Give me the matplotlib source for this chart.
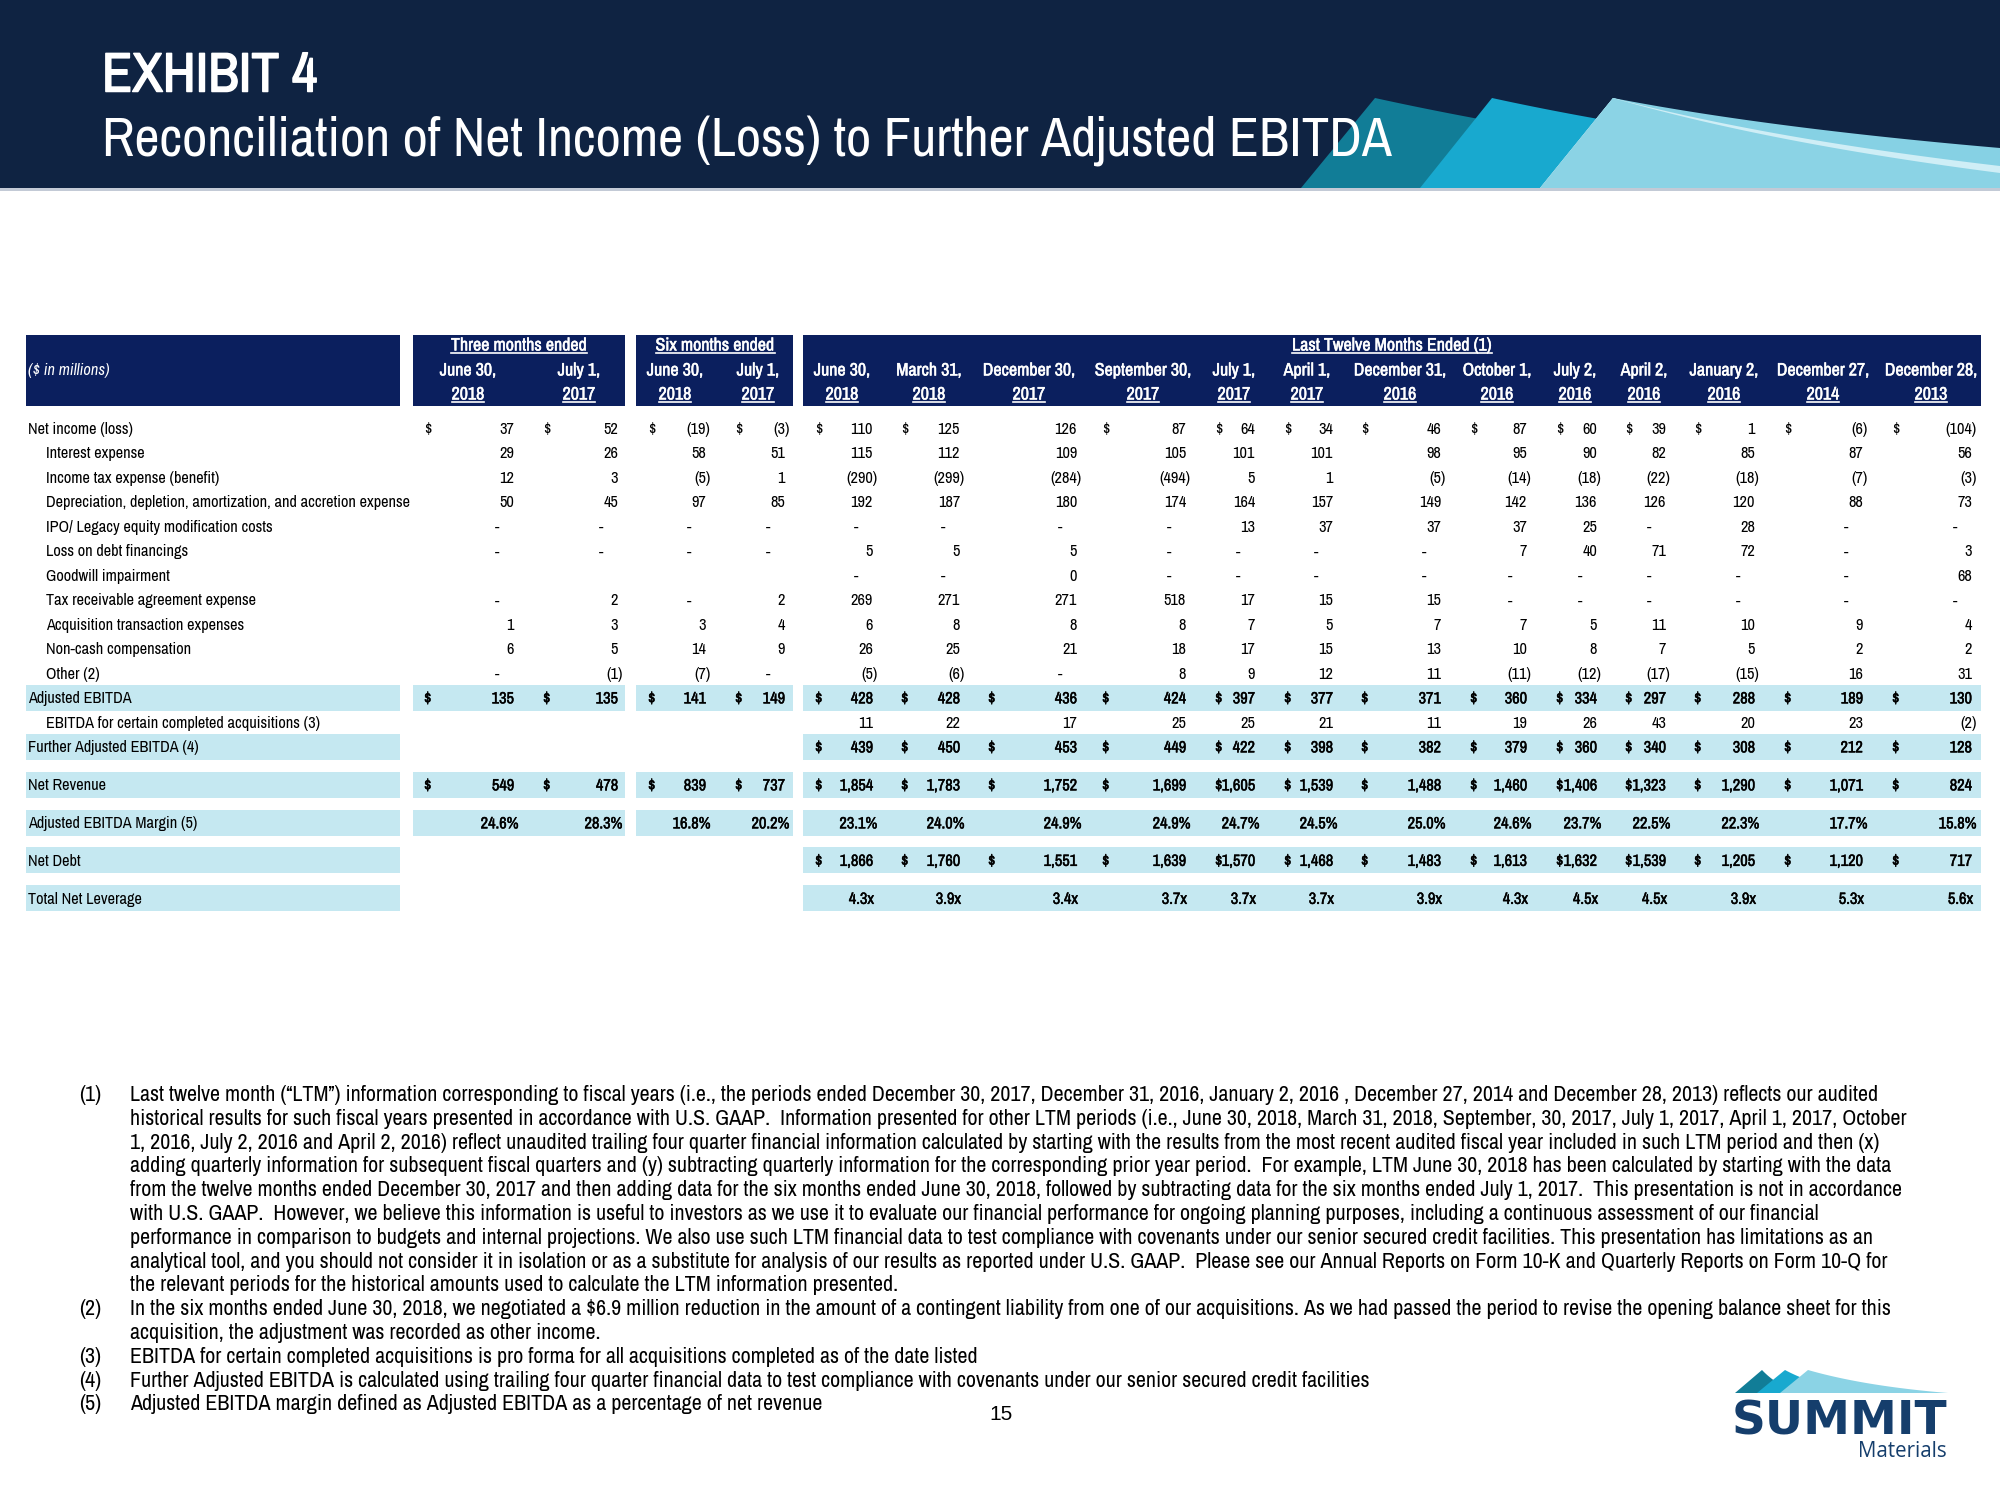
import numpy as np
import matplotlib
matplotlib.use('Agg')
import matplotlib.pyplot as plt
import matplotlib.patheffects as pe
from matplotlib import font_manager as fm
from matplotlib.patches import Rectangle, Polygon

# ---------------- data ----------------
group_titles = ["Three months ended", "Six months ended", "Last Twelve Months Ended (1)"]
col_months = ["June 30,", "July 1,", "June 30,", "July 1,",
              "June 30,", "March 31,", "December 30,", "September 30,", "July 1,", "April 1,",
              "December 31,", "October 1,", "July 2,", "April 2,", "January 2,", "December 27,", "December 28,"]
col_years = ["2018", "2017", "2018", "2017",
             "2018", "2018", "2017", "2017", "2017", "2017",
             "2016", "2016", "2016", "2016", "2016", "2014", "2013"]

net_income = [37, 52, -19, -3, 110, 125, 126, 87, 64, 34, 46, 87, 60, 39, 1, -6, -104]
interest_expense = [29, 26, 58, 51, 115, 112, 109, 105, 101, 101, 98, 95, 90, 82, 85, 87, 56]
income_tax = [12, 3, -5, 1, -290, -299, -284, -494, 5, 1, -5, -14, -18, -22, -18, -7, -3]
dda = [50, 45, 97, 85, 192, 187, 180, 174, 164, 157, 149, 142, 136, 126, 120, 88, 73]
ipo_costs = [0, 0, 0, 0, 0, 0, 0, 0, 13, 37, 37, 37, 25, 0, 28, 0, 0]
debt_loss = [0, 0, 0, 0, 5, 5, 5, 0, 0, 0, 0, 7, 40, 71, 72, 0, 3]
goodwill = [None, None, None, None, 0, 0, "0", 0, 0, 0, 0, 0, 0, 0, 0, 0, 68]
tra_expense = [0, 2, 0, 2, 269, 271, 271, 518, 17, 15, 15, 0, 0, 0, 0, 0, 0]
acq_expense = [1, 3, 3, 4, 6, 8, 8, 8, 7, 5, 7, 7, 5, 11, 10, 9, 4]
noncash_comp = [6, 5, 14, 9, 26, 25, 21, 18, 17, 15, 13, 10, 8, 7, 5, 2, 2]
other = [0, -1, -7, 0, -5, -6, 0, 8, 9, 12, 11, -11, -12, -17, -15, 16, 31]
adj_ebitda = [135, 135, 141, 149, 428, 428, 436, 424, 397, 377, 371, 360, 334, 297, 288, 189, 130]
acq_ebitda = [None] * 4 + [11, 22, 17, 25, 25, 21, 11, 19, 26, 43, 20, 23, -2]
further_ebitda = [None] * 4 + [439, 450, 453, 449, 422, 398, 382, 379, 360, 340, 308, 212, 128]
net_revenue = [549, 478, 839, 737, 1854, 1783, 1752, 1699, 1605, 1539, 1488, 1460, 1406, 1323, 1290, 1071, 824]
ebitda_margin = [24.6, 28.3, 16.8, 20.2, 23.1, 24.0, 24.9, 24.9, 24.7, 24.5, 25.0, 24.6, 23.7, 22.5, 22.3, 17.7, 15.8]
net_debt = [None] * 4 + [1866, 1760, 1551, 1639, 1570, 1468, 1483, 1613, 1632, 1539, 1205, 1120, 717]
net_leverage = [None] * 4 + [4.3, 3.9, 3.4, 3.7, 3.7, 3.7, 3.9, 4.3, 4.5, 4.5, 3.9, 5.3, 5.6]

# label, values, kind, bold/band row, dollar signs, indented
rows = [
    ("Net income (loss)", net_income, "num", False, True, False),
    ("Interest expense", interest_expense, "num", False, False, True),
    ("Income tax expense (benefit)", income_tax, "num", False, False, True),
    ("Depreciation, depletion, amortization, and accretion expense", dda, "num", False, False, True),
    ("IPO/ Legacy equity modification costs", ipo_costs, "num", False, False, True),
    ("Loss on debt financings", debt_loss, "num", False, False, True),
    ("Goodwill impairment", goodwill, "num", False, False, True),
    ("Tax receivable agreement expense", tra_expense, "num", False, False, True),
    ("Acquisition transaction expenses", acq_expense, "num", False, False, True),
    ("Non-cash compensation", noncash_comp, "num", False, False, True),
    ("Other (2)", other, "num", False, False, True),
    ("Adjusted EBITDA", adj_ebitda, "num", True, True, False),
    ("EBITDA for certain completed acquisitions (3)", acq_ebitda, "num", False, False, True),
    ("Further Adjusted EBITDA (4)", further_ebitda, "num", True, True, False),
    ("Net Revenue", net_revenue, "num", True, True, False),
    ("Adjusted EBITDA Margin (5)", ebitda_margin, "pct", True, False, False),
    ("Net Debt", net_debt, "num", True, True, False),
    ("Total Net Leverage", net_leverage, "x", True, False, False),
]
no_dollar = {0: [6]}          # Net income, December 30, 2017 has no $ sign

footnotes = [
    ("(1)", "Last twelve month (\u201cLTM\u201d) information corresponding to fiscal years (i.e., the periods ended December 30, 2017, December 31, 2016, January 2, 2016 , December 27, 2014 and December 28, 2013) reflects our audited"),
    ("", "historical results for such fiscal years presented in accordance with U.S. GAAP.  Information presented for other LTM periods (i.e., June 30, 2018, March 31, 2018, September, 30, 2017, July 1, 2017, April 1, 2017, October"),
    ("", "1, 2016, July 2, 2016 and April 2, 2016) reflect unaudited trailing four quarter financial information calculated by starting with the results from the most recent audited fiscal year included in such LTM period and then (x)"),
    ("", "adding quarterly information for subsequent fiscal quarters and (y) subtracting quarterly information for the corresponding prior year period.  For example, LTM June 30, 2018 has been calculated by starting with the data"),
    ("", "from the twelve months ended December 30, 2017 and then adding data for the six months ended June 30, 2018, followed by subtracting data for the six months ended July 1, 2017.  This presentation is not in accordance"),
    ("", "with U.S. GAAP.  However, we believe this information is useful to investors as we use it to evaluate our financial performance for ongoing planning purposes, including a continuous assessment of our financial"),
    ("", "performance in comparison to budgets and internal projections. We also use such LTM financial data to test compliance with covenants under our senior secured credit facilities. This presentation has limitations as an"),
    ("", "analytical tool, and you should not consider it in isolation or as a substitute for analysis of our results as reported under U.S. GAAP.  Please see our Annual Reports on Form 10-K and Quarterly Reports on Form 10-Q for"),
    ("", "the relevant periods for the historical amounts used to calculate the LTM information presented."),
    ("(2)", "In the six months ended June 30, 2018, we negotiated a $6.9 million reduction in the amount of a contingent liability from one of our acquisitions. As we had passed the period to revise the opening balance sheet for this"),
    ("", "acquisition, the adjustment was recorded as other income."),
    ("(3)", "EBITDA for certain completed acquisitions is pro forma for all acquisitions completed as of the date listed"),
    ("(4)", "Further Adjusted EBITDA is calculated using trailing four quarter financial data to test compliance with covenants under our senior secured credit facilities"),
    ("(5)", "Adjusted EBITDA margin defined as Adjusted EBITDA as a percentage of net revenue"),
]

# ---------------- layout ----------------
BANNER = '#0F2342'
NAVY = '#0B1F5E'
BAND = '#C5E8F1'
LOGO = '#153E6C'

# the slide uses Arial Narrow: take the first installed narrow/condensed face
NARROW = 'Liberation Sans'
for f in fm.fontManager.ttflist:
    if 'Narrow' in f.name or 'Condensed' in f.name:
        NARROW = f.name
        break
HAS_BOLD = any(f.name == NARROW and (f.weight if isinstance(f.weight, int)
                                     else fm.weight_dict.get(f.weight, 400)) >= 600
               for f in fm.fontManager.ttflist)

col_right = [514, 618, 706, 785, 873, 960, 1077, 1186, 1255, 1333, 1441, 1527, 1597, 1666, 1755, 1863, 1972]
col_dollar = [424, 543, 648, 735, 815, 901, 988, 1102, 1215, 1284, 1361, 1470, 1556, 1625, 1694, 1784, 1892]
col_head = [468, 579, 675, 758, 842, 929, 1029, 1143, 1234, 1307, 1400, 1497, 1575, 1644, 1724, 1823, 1931]
sections = [(26, 400), (413, 625), (636, 793), (803, 1981)]
group_x = [519, 715, 1392]
row_y = [428 + 24.5 * i for i in range(14)] + [784.5, 822.5, 860, 898]

fig = plt.figure(figsize=(20, 15), dpi=100)
ax = fig.add_axes([0, 0, 1, 1])
ax.set_xlim(0, 2000)
ax.set_ylim(1500, 0)
ax.axis('off')
R = fig.canvas.get_renderer()


def fitted(s, width, weight='normal', style='normal', family=None):
    t = ax.text(0, 0, s, fontsize=10, family=family or NARROW, weight=weight, style=style, parse_math=False)
    w = t.get_window_extent(R).width
    t.remove()
    return 10 * width / w


def put(x, y, s, size, ha='left', weight='normal', color='black', family=None, style='normal', **kw):
    # y is the visual middle of capitals
    base = y + 0.36 * size * 100 / 72
    effects = None
    if weight == 'bold' and family is None and not HAS_BOLD:
        # no bold face for the narrow font: thicken the strokes slightly
        effects = [pe.withStroke(linewidth=0.3 * size / 11, foreground=color)]
    return ax.text(x, base, s, fontsize=size, ha=ha, va='baseline', weight=weight, color=color,
                   family=family or NARROW, style=style, parse_math=False, zorder=4,
                   path_effects=effects, **kw)


fs_exhibit = fitted("EXHIBIT 4", 214, 'bold')
fs_title = fitted("Reconciliation of Net Income (Loss) to Further Adjusted EBITDA", 1292)
fs_body = fitted("Acquisition transaction expenses", 199.5)
fs_head = fitted("Three months ended", 136, 'bold')
fs_note = fitted(footnotes[0][1], 1750)
fs_logo = fitted("SUMMIT", 215, 'bold', family='DejaVu Sans')
fs_mat = fitted("Materials", 89, family='Open Sans')

# ---- banner ----
ax.add_patch(Rectangle((0, 0), 2000, 188, fc=BANNER, ec='none', zorder=1))
ax.add_patch(Rectangle((0, 188), 2000, 3, fc='#C3CAD6', ec='none', zorder=1))


def sail(xb, xp, yb, yp, xe, ye, color, z=2, bend=0.6):
    t = np.linspace(0, 1, 50)
    cx, cy = xp + (xe - xp) * 0.4, yp + (ye - yp) * bend
    bx = (1 - t) ** 2 * xp + 2 * (1 - t) * t * cx + t ** 2 * xe
    by = (1 - t) ** 2 * yp + 2 * (1 - t) * t * cy + t ** 2 * ye
    pts = [(xb, yb)] + list(zip(bx, by)) + [(xe, yb)]
    ax.add_patch(Polygon(pts, closed=True, fc=color, ec='none', zorder=z))


sail(1301, 1375, 188, 98, 1990, 188, '#117D97')
sail(1420, 1492, 188, 98, 2000, 172, '#18A9CF')
sail(1540, 1613, 188, 98, 2000, 148, '#86D1E4')
sail(1540, 1613, 188, 98, 2000, 166, '#CFEEF6')
sail(1540, 1613, 188, 98, 2000, 173, '#8BD3E5')

put(102, 71.5, "EXHIBIT 4", fs_exhibit, weight='bold', color='white')
put(102, 136.5, "Reconciliation of Net Income (Loss) to Further Adjusted EBITDA", fs_title, color='white')

# ---- table header ----
for x0, x1 in sections:
    ax.add_patch(Rectangle((x0, 335), x1 - x0, 71, fc=NAVY, ec='none', zorder=1))

put(28, 369, "($ in millions)", fs_body, color='white', style='italic')
for gx, g in zip(group_x, group_titles):
    t = put(gx, 344, g, fs_head, ha='center', weight='bold', color='white')
    bb = t.get_window_extent(R)
    ax.plot([bb.x0, bb.x1], [353, 353], color='white', lw=1.2, zorder=4)
for cx, m, yr in zip(col_head, col_months, col_years):
    put(cx, 369, m, fs_head, ha='center', weight='bold', color='white')
    t = put(cx, 393, yr, fs_head, ha='center', weight='bold', color='white')
    bb = t.get_window_extent(R)
    ax.plot([bb.x0, bb.x1], [401.5, 401.5], color='white', lw=1.2, zorder=4)

# ---- table body ----


def fmt(v, kind):
    if v is None:
        return ""
    if isinstance(v, str):
        return v
    if kind == "pct":
        return f"{v:.1f}%"
    if kind == "x":
        return f"{v:.1f}x"
    if v == 0:
        return "-"
    if v < 0:
        return f"({abs(v):,})"
    return f"{v:,}"


for i, (label, vals, kind, strong, dollar, indent) in enumerate(rows):
    y = row_y[i]
    if strong:
        for j, (x0, x1) in enumerate(sections):
            if j in (1, 2) and vals[0] is None:
                continue
            ax.add_patch(Rectangle((x0, y - 13), x1 - x0, 26, fc=BAND, ec='none', zorder=1))
    t = put(46 if indent else 28, y, label, fs_body)
    if i == 3:
        clip = Rectangle((20, y - 20), 392, 40, transform=ax.transData)
        t.set_clip_on(True)
        t.set_clip_path(clip)
    w = 'bold' if strong else 'normal'
    for c, v in enumerate(vals):
        s = fmt(v, kind)
        if not s:
            continue
        r = col_right[c]
        if s == "-":
            put(r - 17, y, s, fs_body, ha='center', weight=w)
        elif s.endswith(")") or s.endswith("%"):
            put(r + 4.5, y, s, fs_body, ha='right', weight=w)
        elif s.endswith("x"):
            put(r + 1, y, s, fs_body, ha='right', weight=w)
        else:
            put(r, y, s, fs_body, ha='right', weight=w)
        if dollar and c not in no_dollar.get(i, []):
            put(col_dollar[c], y, "$", fs_body, weight=w)

# ---- footnotes ----
for k, (num, line) in enumerate(footnotes):
    y = 1093 + 23.8 * k
    if num:
        put(79, y, num, fs_note)
    put(130, y, line, fs_note)

put(1001, 1412, "15", 15, ha='center', family='Liberation Sans')

# ---- logo ----
sail(1735, 1762, 1393, 1370, 1800, 1393, '#117D97', z=2, bend=0.7)
sail(1757, 1785, 1393, 1370, 1860, 1393, '#18A9CF', z=2, bend=0.7)
sail(1780, 1808, 1393, 1370, 1948, 1393, '#8BD3E5', z=2, bend=0.7)
put(1732, 1418, "SUMMIT", fs_logo, weight='bold', color=LOGO, family='DejaVu Sans')
put(1947, 1450, "Materials", fs_mat, ha='right', color=LOGO, family='Open Sans')

fig.savefig("out.png", dpi=100)
